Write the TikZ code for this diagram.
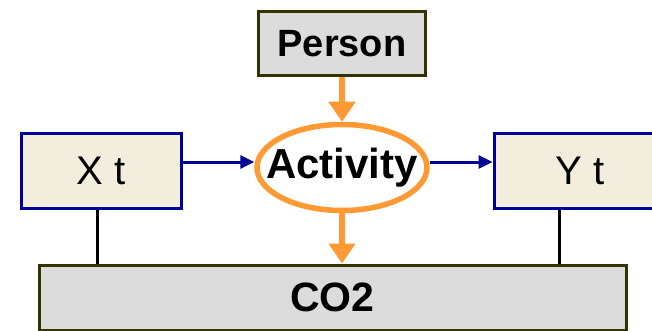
\documentclass[tikz,border=0pt]{standalone}
\usepackage{fontspec}
\setmainfont{Liberation Sans}
\usetikzlibrary{shapes.geometric,arrows.meta}
\definecolor{boxblue}{HTML}{000099}
\definecolor{beige}{HTML}{F2EDDC}
\definecolor{lightgray}{HTML}{DCDCDC}
\definecolor{olive}{HTML}{333300}
\definecolor{orangeline}{HTML}{FF9933}
\tikzset{
  varbox/.style={draw=boxblue, line width=3pt, fill=beige, inner sep=0pt,
    font=\fontsize{40}{42}\selectfont},
  graybox/.style={draw=olive, line width=3pt, fill=lightgray, inner sep=0pt,
    font=\bfseries\fontsize{38}{40}\selectfont},
  actnode/.style={ellipse, draw=orangeline, line width=5.5pt, fill=white, inner sep=0pt,
    minimum width=170pt, minimum height=86pt,
    label={[font=\bfseries\fontsize{42}{44}\selectfont]center:Activity}},
  orangearrow/.style={draw=orangeline, line width=6pt,
    -{Triangle[length=20pt,width=26pt]}},
  bluearrow/.style={draw=boxblue, line width=3pt,
    -{Triangle[length=14pt,width=13pt]}},
  link/.style={draw=black, line width=3pt},
}
\begin{document}
\begin{tikzpicture}[x=1pt,y=-1pt]
\useasboundingbox (0,0) rectangle (652,331);
\begin{scope}
\clip (0,0) rectangle (652,331);
\node[graybox, minimum width=167pt, minimum height=64pt] (person) at (342,43.5) {Person};
\node[varbox, minimum width=160pt, minimum height=74pt] (xt) at (101,171) {X t};
\node[varbox, minimum width=172pt, minimum height=74pt] (yt) at (580,171) {Y t};
\node[graybox, minimum width=587pt, minimum height=65pt,
  font=\bfseries\fontsize{41}{43}\selectfont] (co2) at (332.5,297.5) {CO2};
\node[actnode] (act) at (342,167.5) {};
\draw[orangearrow] (person.south) -- (act.north);
\draw[orangearrow] (act.south) -- (act.south |- co2.north);
\draw[bluearrow] (xt.east |- 0,162) -- (act.west |- 0,162);
\draw[bluearrow] (act.east |- 0,162) -- (yt.west |- 0,162);
\draw[link] ([xshift=-4pt]xt.south) -- ([xshift=-4pt]xt.south |- co2.north);
\draw[link] (yt.south -| 559,0) -- (co2.north -| 559,0);
\end{scope}
\end{tikzpicture}
\end{document}
